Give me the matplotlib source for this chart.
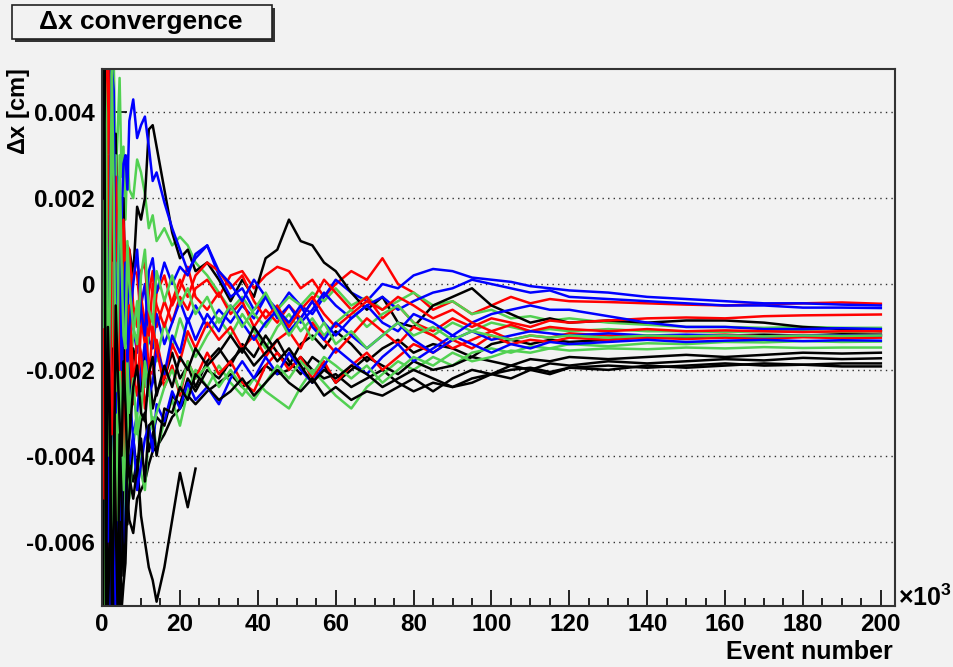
import numpy as np
import matplotlib.pyplot as plt
from matplotlib.ticker import MultipleLocator, FuncFormatter
from matplotlib.patches import Rectangle

plt.rcParams['font.family'] = ['Liberation Sans', 'DejaVu Sans']
plt.rcParams['font.weight'] = 'bold'
plt.rcParams['axes.unicode_minus'] = False
plt.rcParams['mathtext.fontset'] = 'custom'
plt.rcParams['mathtext.rm'] = 'Liberation Sans'
plt.rcParams['mathtext.bf'] = 'Liberation Sans:bold'

# event number in units of 10^3, dx values in units of 10^-3 cm
event_k = [0.2, 1, 2, 3, 4, 5, 6, 7, 8, 10, 12, 14, 16, 18, 20, 22, 24, 27, 30, 33,
           36, 39, 42, 45, 48, 51, 54, 57, 60, 64, 68, 72, 76, 80, 85, 90, 95, 100, 105, 110,
           115, 120, 130, 140, 150, 160, 170, 180, 190, 200]
# extra early samples, where the curves swing the most
fill_k = [0.6, 1.5, 2.5, 3.5, 4.5, 5.5, 6.5, 9, 11, 13]

black_short = [3, -2, -5, -6, -3.5, -4, -4.4, -4.2, -4.6, -5.4, -6.6, -7.4, -6.6, -5.5, -4.4, -5.2, -4.3]
black_short_fill = [-6, 2, -7.6, -4.8, -6.2, -3.2, -5.4, -4.1, -6.0, -6.9]

black_1 = [-7.5, -6, -7.6, -7.6, -6.8, -7.6, -6.5, -5.5, -5.8, -4.8, -4.2, -3.8, -3.5, -3.1, -2.9, -2.6, -2.8, -2.5, -2.3, -2.1,
           -2.4, -2.2, -1.9, -2.1, -2.0, -1.7, -2.0, -2.2, -2.1, -2.4, -2.2, -2.0, -2.3, -2.5, -2.3, -2.4, -2.2, -2.1, -2.0, -1.95,
           -2.05, -1.95, -1.9, -1.95, -1.9, -1.85, -1.9, -1.88, -1.92, -1.92]
black_1_fill = [1, -7.6, -4.5, -7.6, -5.2, -7.0, -5.0, -5.0, -4.6, -3.9]
black_2 = [5, 2, -1, 1.5, -0.5, 0.8, -0.5, 0.8, 0.2, 1.5, 3.6, 3.2, 2.2, 1.2, 0.6, 0.8, 0.3, 0.5, 0.1, -0.4,
           0.1, -0.3, 0.6, 0.8, 1.5, 1.0, 0.9, 0.5, 0.3, -0.2, -0.6, -0.3, -0.9, -1.0, -0.5, -0.3, -0.1, -0.5, -0.7, -0.9,
           -0.8, -0.9, -0.85, -0.9, -0.85, -0.85, -0.9, -1.0, -1.05, -1.1]
black_2_fill = [-4, 5, -3, 3.5, -1.5, 2.0, 0.1, 1.8, 2.0, 3.7]
black_3 = [-3, 1, -2, -4, -2.5, -3.5, -2, -3, -1.5, -2.5, -1.8, -2.5, -2.2, -1.6, -2.2, -1.9, -2.4, -1.8, -1.5, -1.9,
           -1.4, -1.7, -1.2, -1.6, -1.9, -1.4, -1.2, -1.5, -1.1, -1.4, -1.8, -1.5, -1.3, -1.6, -1.4, -1.5, -1.7, -1.4, -1.3, -1.4,
           -1.3, -1.35, -1.3, -1.2, -1.25, -1.2, -1.18, -1.2, -1.17, -1.18]
black_3_fill = [4, -5, 2, -1, -4.5, -1.5, -3.8, -2.0, -1.4, -2.9]
black_4 = [4, -5, 2, -7.6, -5, -6.5, -3.5, -4.8, -3.6, -3.2, -3.9, -3.1, -3.3, -2.6, -2.8, -2.2, -2.5, -2.0, -2.2, -1.8,
           -1.5, -1.9, -1.6, -1.3, -1.8, -2.1, -1.7, -1.9, -2.3, -2.0, -1.7, -1.9, -2.1, -1.8, -2.0, -1.9, -1.7, -1.8, -1.9, -1.75,
           -1.8, -1.7, -1.75, -1.7, -1.65, -1.7, -1.65, -1.6, -1.62, -1.6]
black_4_fill = [-7.6, 3, -6, -2, -7.6, -4.2, -5.6, -4.4, -3.0, -3.5]
black_5 = [-7.6, -4, -6, -3, -7.6, -5, -6, -4.5, -5, -3.6, -3.3, -4.0, -2.9, -3.0, -2.4, -2.7, -2.1, -2.4, -2.7, -2.5,
           -2.2, -2.6, -2.3, -2.0, -2.3, -2.5, -2.2, -2.6, -2.4, -2.7, -2.5, -2.6, -2.4, -2.2, -2.5, -2.2, -2.0, -2.1, -1.9, -2.0,
           -1.85, -1.9, -1.8, -1.85, -1.8, -1.75, -1.78, -1.72, -1.75, -1.73]
black_5_fill = [0, -7.6, -1.5, -5.5, -3.5, -6.8, -3.8, -4.3, -4.6, -3.2]
black_6 = [2, -7.6, -3, -5.5, -2, -4, -2.8, -3.6, -2.4, -3.0, -2.1, -2.6, -1.9, -2.4, -1.7, -2.0, -1.5, -1.9, -1.6, -1.2,
           -1.6, -1.0, -1.4, -1.8, -1.5, -1.9, -2.3, -2.0, -2.2, -1.9, -2.1, -2.4, -2.2, -2.0, -2.2, -2.4, -2.3, -2.1, -2.2, -2.0,
           -2.1, -1.95, -2.0, -1.9, -1.95, -1.9, -1.85, -1.88, -1.85, -1.85]
black_6_fill = [5, -1, -7.6, -0.5, -3.2, -1.8, -4.2, -1.9, -3.2, -1.7]

red_1 = [5, -3, 5, -1, 2, -2, 0.5, -1.5, 0.4, -0.8, -0.2, -1.0, -0.4, -0.9, -0.3, -0.6, -0.1, 0.1, -0.3, 0.2,
         0.3, -0.1, 0.2, 0.4, 0.3, -0.1, 0.1, -0.3, 0.0, 0.3, 0.1, 0.6, 0.0, -0.2, -0.6, -0.4, -0.7, -0.5, -0.3, -0.45,
         -0.35, -0.4, -0.42, -0.45, -0.48, -0.5, -0.47, -0.45, -0.43, -0.46]
red_1_fill = [-7.6, 4, -5, 3.5, -1, 1.2, -2.0, 0.2, -1.4, 0.3]
red_2 = [-6, 3, -3, 1, -2.5, 0.5, -1.2, 0.8, -0.5, 0.3, -0.8, -0.2, 0.2, -0.5, -0.1, 0.4, -0.3, -0.6, -0.2, -0.7,
         -0.4, -1.0, -0.6, -0.9, -0.5, -0.8, -0.4, 0.1, -0.2, -0.6, -0.3, -0.8, -0.5, -0.9, -1.1, -0.8, -1.0, -0.8, -0.9, -1.0,
         -0.85, -0.9, -0.85, -0.8, -0.78, -0.8, -0.75, -0.73, -0.72, -0.71]
red_2_fill = [5, -7.6, 4.5, -4, 1.5, -2.0, 0.9, -1.0, 0.5, -1.2]
red_3 = [3, -7.6, 4, -4, -6, -1.5, -3, -0.5, -2.2, -1.0, -2.0, -1.3, -2.2, -1.4, -1.8, -1.1, -1.5, -0.9, -1.3, -1.0,
         -1.5, -1.2, -1.7, -1.3, -1.1, -1.5, -0.9, -1.3, -1.6, -1.2, -0.8, -1.1, -1.4, -1.0, -1.2, -1.5, -1.3, -1.1, -1.3, -1.2,
         -1.25, -1.15, -1.2, -1.25, -1.2, -1.18, -1.22, -1.2, -1.21, -1.2]
red_3_fill = [-2, 5, -7.6, 1, -3.5, -4.5, -1.2, -2.6, -0.8, -2.1]
red_4 = [-2, 5, -5, 2, -3.5, -1, -2.6, -1.2, -2.8, -1.6, -2.3, -1.5, -2.4, -1.9, -2.6, -1.8, -2.2, -1.6, -2.1, -1.8,
         -2.3, -2.5, -1.9, -1.6, -2.0, -1.7, -2.2, -1.8, -2.3, -1.9, -1.6, -2.0, -1.7, -1.4, -1.6, -1.3, -1.5, -1.2, -1.4, -1.3,
         -1.35, -1.25, -1.3, -1.25, -1.28, -1.25, -1.27, -1.24, -1.26, -1.25]
red_4_fill = [5, -7.6, 3, -6.5, -0.5, -4.0, -0.8, -1.2, -2.9, -1.0]
red_5 = [1, -1, 0.5, -2, 1, -0.5, 0.3, -0.8, 0.2, -0.3, -1.2, -0.5, -1.0, -0.4, 0.1, -0.3, 0.2, 0.5, 0.3, -0.1,
         0.2, -0.4, -0.8, -0.5, -1.0, -0.6, -0.3, -0.7, -1.0, -0.7, -0.4, -0.6, -0.3, -0.5, -0.8, -0.6, -0.9, -1.1, -0.95, -1.1,
         -1.0, -1.05, -1.1, -1.05, -1.1, -1.08, -1.1, -1.12, -1.1, -1.1]
red_5_fill = [-5, 3, -3.5, 2.5, -2, 1.5, -1.6, 0.6, -0.9, 0.0]

blue_1 = [4, -4, 3, -2, 1.5, -0.5, -1.5, 0.2, -1.0, -0.5, -1.3, -0.7, -1.4, -0.9, -0.4, -0.9, -0.5, -1.0, -0.6, -0.9,
          -0.5, -0.8, -0.3, -0.6, -0.2, -0.5, -0.7, -0.3, 0.1, -0.2, -0.4, 0.0, -0.1, 0.2, 0.35, 0.3, 0.15, 0.1, 0.05, -0.05,
          -0.1, -0.15, -0.2, -0.3, -0.35, -0.4, -0.45, -0.45, -0.48, -0.5]
blue_1_fill = [-7.6, 5, -4.5, 2.5, -2.5, 0.8, -0.6, -1.6, 0.0, -1.5]
blue_2 = [-5, 2, -1, 0.5, 2.5, 1.5, 3.0, 3.8, 4.3, 3.7, 3.2, 2.6, 1.9, 1.3, 0.8, 0.3, 0.6, 0.9, 0.2, -0.3,
          -0.1, -0.6, -0.3, -0.8, -0.5, -0.9, -0.6, -0.2, -0.5, -0.8, -0.5, -0.3, -0.6, -0.4, -0.2, -0.1, 0.1, 0.0, -0.1, -0.2,
          -0.15, -0.3, -0.35, -0.4, -0.45, -0.5, -0.5, -0.55, -0.55, -0.56]
blue_2_fill = [5, -3, 3.5, -1.5, 1.0, 2.8, 2.2, 3.4, 3.9, 2.4]
blue_3 = [2, -6, -2, -5, -3, -1.5, -4, -2.5, -3.6, -2.0, -2.6, -1.5, -2.1, -1.2, -1.6, -0.8, -1.3, -0.7, -1.1, -0.5,
          -0.9, -1.3, -0.9, -0.6, -1.1, -0.8, -0.4, -0.9, -1.2, -0.8, -0.5, -0.9, -1.1, -0.7, -0.9, -1.2, -0.9, -0.7, -0.6, -0.5,
          -0.6, -0.6, -0.75, -0.9, -1.0, -1.0, -1.05, -1.05, -1.03, -1.05]
blue_3_fill = [-7.6, 1, -7, -1, -5.5, -2.8, -1.2, -3.0, -1.4, -2.3]
blue_4 = [-7.6, -3, -7.6, -4.5, -6, -4.8, -5.5, -4.2, -3.5, -4.2, -3.3, -2.8, -3.2, -2.5, -2.9, -2.3, -2.7, -2.4, -2.8, -2.2,
          -1.8, -2.2, -1.7, -2.1, -1.6, -2.0, -2.3, -1.9, -1.5, -1.8, -2.1, -1.7, -1.4, -1.8, -1.5, -1.2, -1.4, -1.6, -1.4, -1.5,
          -1.35, -1.4, -1.35, -1.3, -1.35, -1.32, -1.3, -1.33, -1.31, -1.32]
blue_4_fill = [-1, -7.6, -2.5, -7.6, -3.8, -6.5, -3.9, -4.8, -3.6, -3.9]
blue_5 = [0.5, -2, 1, 4.5, 0, -2, 0.5, -1, 0, -0.6, 0.3, -0.2, 0.5, 0.0, 0.4, 0.2, 0.7, 0.9, 0.3, 0.0,
          -0.4, 0.1, -0.3, -0.6, -0.9, -0.5, -1.0, -1.3, -0.9, -1.2, -1.5, -1.2, -0.9, -1.3, -1.6, -1.3, -1.1, -1.3, -1.2, -1.1,
          -1.15, -1.2, -1.15, -1.2, -1.18, -1.2, -1.22, -1.2, -1.2, -1.2]
blue_5_fill = [5, -6, 5, -3, 2, -0.8, -1.8, 0.8, -1.2, 0.6]

green_1 = [-3, 2, 4, 5.2, 3.5, 2.5, 1.5, 2.2, 2.0, 2.6, 1.3, 1.0, 1.3, 0.9, 1.1, 0.9, 0.5, 0.2, -0.2, -0.6,
           -0.3, -0.7, -1.0, -0.6, -0.3, -0.5, -0.2, -0.4, -0.1, -0.5, -0.3, -0.6, -0.4, -0.2, -0.5, -0.4, -0.7, -0.6, -0.8, -0.75,
           -0.85, -0.8, -0.9, -0.95, -1.0, -1.0, -1.02, -1.0, -1.02, -1.02]
green_1_fill = [5, -2, 5.2, 2.5, 4.8, 3.2, 3.0, 2.9, 2.1, 1.6]
green_2 = [5, -1, 3, -3, 1, -1.8, -0.5, -2.2, -1.2, -2.0, -1.0, -1.8, -0.9, -1.5, -0.8, -1.3, -1.7, -1.2, -0.8, -1.2,
           -0.7, -1.1, -1.5, -1.0, -0.7, -1.1, -0.8, -1.2, -0.9, -0.6, -1.0, -0.7, -0.5, -0.9, -1.2, -0.9, -1.1, -0.9, -1.0, -1.1,
           -1.05, -1.1, -1.05, -1.1, -1.1, -1.12, -1.1, -1.1, -1.12, -1.1]
green_2_fill = [-6, 4, -5, 3, -3, 0.5, -2.8, -0.4, -2.4, -0.7]
green_3 = [-7.6, 1, -4, -6, -2, -4.5, -3, -5, -3.8, -4.4, -3.5, -3.9, -3.2, -2.7, -3.3, -2.5, -2.0, -2.4, -1.9, -2.3,
           -2.6, -2.2, -2.5, -2.7, -2.9, -2.4, -2.0, -2.3, -2.6, -2.9, -2.4, -2.1, -1.8, -2.0, -1.7, -1.9, -1.6, -1.5, -1.6, -1.45,
           -1.5, -1.4, -1.45, -1.38, -1.4, -1.35, -1.36, -1.33, -1.35, -1.34]
green_3_fill = [2, -7.6, 0.5, -7.6, -3.5, -5.8, -2.6, -3.0, -4.8, -3.1]
green_4 = [2, -5, -1, -3.5, -5.5, -2.8, -4, -3, -2.2, -3.0, -2.4, -3.0, -2.4, -2.0, -2.5, -1.8, -2.2, -1.9, -2.4, -2.0,
           -2.4, -2.7, -2.3, -1.9, -2.2, -1.8, -2.1, -1.7, -1.9, -2.2, -1.9, -2.3, -2.0, -1.7, -1.9, -1.6, -1.8, -1.7, -1.55, -1.6,
           -1.5, -1.55, -1.5, -1.52, -1.48, -1.5, -1.47, -1.49, -1.48, -1.48]
green_4_fill = [-7.6, 3, -6.5, 0.5, -2, -4.8, -1.8, -3.5, -1.8, -3.4]
green_5 = [-1, 4, 0, 2, -1, 0.5, -1.5, 0.0, -1.0, 0.2, -0.6, 0.3, -0.4, 0.2, -0.5, -0.1, -0.7, -0.3, -0.9, -0.5,
           -1.0, -0.6, -0.2, -0.7, -1.2, -0.8, -1.3, -0.9, -1.4, -1.1, -1.5, -1.2, -0.9, -1.2, -1.0, -1.3, -1.1, -1.2, -1.3, -1.2,
           -1.25, -1.2, -1.25, -1.2, -1.22, -1.2, -1.22, -1.2, -1.21, -1.2]
green_5_fill = [5, -4, 5, -2.5, 3, -1.2, 1.0, -1.4, 0.8, -0.9]

BLACK, RED, BLUE, GREEN = '#000000', '#ff0000', '#0000ff', '#52d152'


def curve(main, fill):
    xs = np.array(event_k[:len(main)] + fill_k)
    ys = np.array(main + fill) * 1e-3
    order = np.argsort(xs)
    return xs[order], ys[order]


fig = plt.figure(figsize=(9.54, 6.67), dpi=100, facecolor='#f2f2f2')
ax = fig.add_axes([0.107, 0.0915, 0.831, 0.8045], facecolor='#f2f2f2')

lw = 1.8
series = [
    (black_short, black_short_fill, BLACK),
    (black_1, black_1_fill, BLACK), (red_1, red_1_fill, RED), (blue_1, blue_1_fill, BLUE), (green_1, green_1_fill, GREEN),
    (black_2, black_2_fill, BLACK), (red_2, red_2_fill, RED), (blue_2, blue_2_fill, BLUE), (green_2, green_2_fill, GREEN),
    (black_3, black_3_fill, BLACK), (red_3, red_3_fill, RED), (blue_3, blue_3_fill, BLUE), (green_3, green_3_fill, GREEN),
    (black_4, black_4_fill, BLACK), (red_4, red_4_fill, RED), (blue_4, blue_4_fill, BLUE), (green_4, green_4_fill, GREEN),
    (black_5, black_5_fill, BLACK), (red_5, red_5_fill, RED), (blue_5, blue_5_fill, BLUE), (green_5, green_5_fill, GREEN),
    (black_6, black_6_fill, BLACK),
]
for main, fill, col in series:
    xs, ys = curve(main, fill)
    ax.plot(xs, ys, color=col, lw=lw)

ax.set_xlim(0, 203.6)
ax.set_ylim(-0.0075, 0.005)
ax.xaxis.set_major_locator(MultipleLocator(20))
ax.xaxis.set_minor_locator(MultipleLocator(5))
ax.yaxis.set_major_locator(MultipleLocator(0.002))
ax.yaxis.set_minor_locator(MultipleLocator(0.0005))
ax.yaxis.set_major_formatter(FuncFormatter(lambda v, _: '0' if abs(v) < 1e-12 else '%.3f' % v))
ax.tick_params(axis='both', which='both', direction='in', labelsize=17.5, width=1.2)
ax.tick_params(axis='x', which='major', length=11.5, pad=5)
ax.tick_params(axis='x', which='minor', length=6)
ax.tick_params(axis='y', which='major', length=18, pad=5)
ax.tick_params(axis='y', which='minor', length=9)
ax.tick_params(right=False, top=False, which='both')
for lab in ax.get_xticklabels() + ax.get_yticklabels():
    lab.set_fontweight('bold')
ax.grid(axis='y', which='major', color='#333333', linestyle=(0, (1, 3)), lw=1)
ax.set_axisbelow(True)
for s in ax.spines.values():
    s.set_linewidth(1.5)
    s.set_color('#333333')

fig.text(893 / 954, 1 - 652 / 667, 'Event number', ha='right', va='center', fontsize=18, fontweight='bold')
fig.text(898 / 954, 1 - 598 / 667, r'$\times\mathregular{10^{3}}$', ha='left', va='center', fontsize=18)
fig.text(19 / 954, 1 - 68 / 667, r'$\Delta$x [cm]', ha='center', va='top', rotation=90, fontsize=17, fontweight='bold')

# title box
fig.patches.append(Rectangle((15 / 954, 1 - 42 / 667), 260 / 954, 34 / 667, transform=fig.transFigure,
                             facecolor='#333333', edgecolor='none'))
fig.patches.append(Rectangle((12 / 954, 1 - 39 / 667), 260 / 954, 34 / 667, transform=fig.transFigure,
                             facecolor='#f2f2f2', edgecolor='#222222', lw=1.2))
fig.text(141 / 954, 1 - 22 / 667, '\u0394x convergence', ha='center', va='center', fontsize=19, fontweight='bold')

fig.savefig('out.png', dpi=100, facecolor=fig.get_facecolor())
